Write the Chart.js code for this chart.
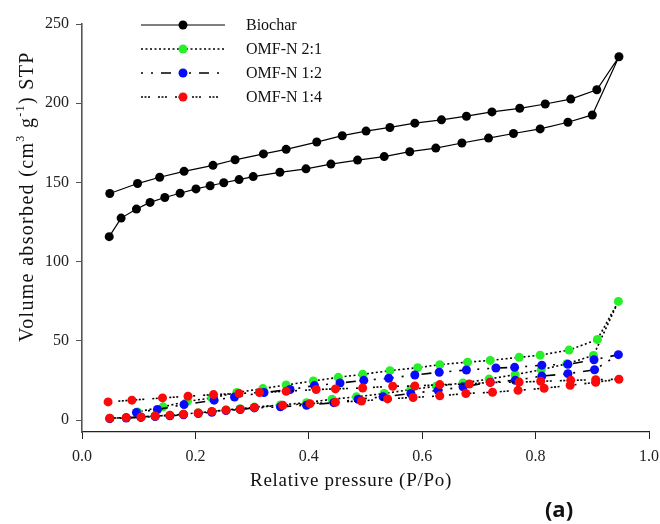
<!DOCTYPE html>
<html>
<head>
<meta charset="utf-8">
<script src="https://cdn.jsdelivr.net/npm/chart.js@4.4.1/dist/chart.umd.min.js"></script>
<style>
  html, body { margin: 0; padding: 0; background: #fff; }
  #chart { display: block; }
</style>
</head>
<body>
<canvas id="chart" width="660" height="524"></canvas>
<script>
// N2 isotherms - adsorption branch (low to high P/Po) and desorption branch (high to low)
const biocharAdsX = [0.048, 0.069, 0.096, 0.12, 0.146, 0.173, 0.201, 0.226, 0.25, 0.277, 0.302, 0.349, 0.395, 0.439, 0.486, 0.533, 0.578, 0.624, 0.67, 0.717, 0.761, 0.808, 0.857, 0.9, 0.947];
const biocharAdsY = [115.8, 127.5, 133.2, 137.4, 140.5, 143.2, 145.9, 147.9, 149.8, 151.8, 153.7, 156.4, 158.6, 161.6, 164.1, 166.3, 169.4, 171.7, 174.9, 178, 180.9, 183.8, 188, 192.6, 229.3];
const biocharDesX = [0.908, 0.862, 0.817, 0.772, 0.723, 0.678, 0.634, 0.587, 0.543, 0.501, 0.459, 0.414, 0.36, 0.32, 0.27, 0.231, 0.18, 0.137, 0.098, 0.049];
const biocharDesY = [208.5, 202.6, 199.5, 196.8, 194.5, 191.8, 189.5, 187.4, 184.7, 182.4, 179.5, 175.5, 170.9, 168, 164.3, 160.8, 157, 153.3, 149.3, 143];

const omf21AdsX = [0.049, 0.078, 0.104, 0.129, 0.155, 0.179, 0.205, 0.229, 0.254, 0.279, 0.304, 0.35, 0.396, 0.441, 0.484, 0.533, 0.58, 0.625, 0.672, 0.718, 0.764, 0.81, 0.855, 0.902, 0.946];
const omf21AdsY = [1.2, 1.6, 2.0, 2.6, 3.0, 3.8, 4.6, 5.4, 6.5, 7.2, 8.2, 9.6, 11, 13.2, 14.7, 16.8, 19.3, 21.4, 23.4, 25.9, 28.7, 31.8, 35.6, 40.8, 74.9];
const omf21DesX = [0.909, 0.859, 0.808, 0.771, 0.72, 0.68, 0.631, 0.592, 0.543, 0.495, 0.452, 0.408, 0.36, 0.319, 0.273, 0.229, 0.186, 0.143, 0.098];
const omf21DesY = [50.9, 44.2, 41, 39.6, 37.7, 36.6, 35, 33.1, 31.2, 28.9, 27, 24.7, 22.2, 19.9, 17.4, 14, 11.9, 8.4, 5.2];

const omf12AdsX = [0.049, 0.078, 0.104, 0.129, 0.155, 0.179, 0.205, 0.229, 0.254, 0.279, 0.304, 0.35, 0.396, 0.444, 0.487, 0.531, 0.58, 0.628, 0.672, 0.72, 0.764, 0.811, 0.857, 0.904, 0.946];
const omf12AdsY = [0.9, 1.3, 1.7, 2.3, 2.7, 3.4, 4.2, 5.0, 6.0, 6.7, 7.7, 8.4, 9.4, 11, 13.2, 14.7, 16.8, 18.8, 21, 23.9, 25.1, 27.8, 29.3, 31.8, 41.3];
const omf12DesX = [0.903, 0.857, 0.811, 0.763, 0.73, 0.678, 0.63, 0.587, 0.541, 0.497, 0.455, 0.41, 0.367, 0.321, 0.269, 0.233, 0.18, 0.133, 0.096];
const omf12DesY = [38.1, 35.2, 34.7, 33.3, 32.9, 31.6, 30.2, 28.5, 26.4, 25.1, 23.4, 21.8, 19.3, 17.4, 14.6, 12.6, 9.8, 6.7, 4.8];

const omf14AdsX = [0.049, 0.078, 0.104, 0.129, 0.155, 0.179, 0.205, 0.229, 0.254, 0.279, 0.304, 0.354, 0.402, 0.447, 0.493, 0.539, 0.584, 0.631, 0.677, 0.724, 0.769, 0.815, 0.861, 0.906, 0.947];
const omf14AdsY = [1.2, 1.6, 2.0, 2.6, 3.0, 3.7, 4.5, 5.5, 6.3, 6.9, 8.0, 9.4, 10.4, 11.3, 12.1, 13.4, 14.3, 15.3, 16.8, 17.6, 18.8, 20.1, 22, 23.9, 25.8];
const omf14DesX = [0.906, 0.862, 0.809, 0.771, 0.72, 0.683, 0.631, 0.587, 0.548, 0.495, 0.447, 0.413, 0.36, 0.313, 0.277, 0.232, 0.187, 0.142, 0.088, 0.046];
const omf14DesY = [25.5, 25.1, 24.5, 24, 23.8, 22.8, 22.4, 21.5, 21.4, 20.3, 19.7, 19.3, 18.2, 17.4, 16.8, 16.1, 15.1, 14, 12.6, 11.5];

const seriesLabels = ['Biochar', 'OMF-N 2:1', 'OMF-N 1:2', 'OMF-N 1:4'];
const xTicks = [0, 0.2, 0.4, 0.6, 0.8, 1.0];
const yTicks = [0, 50, 100, 150, 200, 250];

// join both branches into one loop so the line goes up and comes back
function loop(ax, ay, dx, dy) {
    const pts = ax.map((x, i) => ({ x: x, y: ay[i] }));
    dx.forEach((x, i) => pts.push({ x: x, y: dy[i] }));
    return pts;
}

const serif = '"Liberation Serif", "DejaVu Serif", serif';

function series(label, pts, color, dash, order) {
    return {
        label: label,
        data: pts,
        borderColor: '#000',
        borderWidth: dash.length ? 1.6 : 1.2,
        borderDash: dash,
        pointRadius: 4.5,
        pointHoverRadius: 4.5,
        pointBorderWidth: 0,
        pointBackgroundColor: color,
        tension: 0,
        fill: false,
        order: order
    };
}

const datasets = [
    series(seriesLabels[0], loop(biocharAdsX, biocharAdsY, biocharDesX, biocharDesY), '#000', [], 4),
    series(seriesLabels[1], loop(omf21AdsX, omf21AdsY, omf21DesX, omf21DesY), 'rgb(40,240,40)', [2, 2.5], 3),
    series(seriesLabels[2], loop(omf12AdsX, omf12AdsY, omf12DesX, omf12DesY), 'rgb(10,10,250)', [2, 8, 2, 8, 10, 8], 2),
    series(seriesLabels[3], loop(omf14AdsX, omf14AdsY, omf14DesX, omf14DesY), 'rgb(250,10,10)', [2, 1.5, 2, 1.5, 2, 8], 1)
];

// text stretched a little to the length of the original serif face
function spacedText(ctx, text, x, y, width) {
    ctx.letterSpacing = '0px';
    const w = ctx.measureText(text).width;
    ctx.letterSpacing = Math.max(0, (width - w) / text.length) + 'px';
    ctx.fillText(text, x, y);
    ctx.letterSpacing = '0px';
}

// legend with line + marker, plus axis titles and panel letter
const extras = {
    id: 'extras',
    afterDraw(chart) {
        const ctx = chart.ctx;
        ctx.save();
        // legend
        const rows = [25, 49, 73, 97];
        datasets.forEach((ds, i) => {
            const y = rows[i];
            ctx.strokeStyle = '#000';
            ctx.lineWidth = ds.borderWidth;
            ctx.setLineDash(ds.borderDash);
            ctx.beginPath();
            ctx.moveTo(141, y);
            ctx.lineTo(225, y);
            ctx.stroke();
            ctx.setLineDash([]);
            ctx.fillStyle = ds.pointBackgroundColor;
            ctx.beginPath();
            ctx.arc(183, y, 4.5, 0, Math.PI * 2);
            ctx.fill();
            ctx.fillStyle = '#111';
            ctx.font = '16px ' + serif;
            ctx.textAlign = 'left';
            ctx.textBaseline = 'middle';
            ctx.fillText(ds.label, 246, y + 1);
        });

        // x title
        ctx.fillStyle = '#111';
        ctx.font = '19px ' + serif;
        ctx.textAlign = 'left';
        ctx.textBaseline = 'middle';
        spacedText(ctx, 'Relative pressure (P/Po)', 250, 481, 202);

        // y title with superscripts
        const parts = [
            ['Volume absorbed (cm', false],
            ['3', true],
            [' g', false],
            ['-1', true],
            [') STP', false]
        ];
        const big = '20px ' + serif, small = '12px ' + serif;
        let total = 0;
        parts.forEach(p => { ctx.font = p[1] ? small : big; total += ctx.measureText(p[0]).width; });
        const extra = Math.max(0, (292 - total) / 30);
        ctx.translate(33, 196);
        ctx.rotate(-Math.PI / 2);
        ctx.textAlign = 'left';
        ctx.textBaseline = 'alphabetic';
        ctx.letterSpacing = extra + 'px';
        let x = -146;
        parts.forEach(p => {
            ctx.font = p[1] ? small : big;
            ctx.fillText(p[0], x, p[1] ? -9 : 0);
            x += ctx.measureText(p[0]).width;
        });
        ctx.letterSpacing = '0px';
        ctx.setTransform(1, 0, 0, 1, 0, 0);

        // panel letter
        ctx.font = 'bold 22px "Open Sans", "Liberation Sans", sans-serif';
        ctx.textAlign = 'center';
        ctx.textBaseline = 'middle';
        ctx.fillText('(a)', 559, 511);
        ctx.restore();
    }
};

new Chart(document.getElementById('chart'), {
    type: 'line',
    data: { datasets: datasets },
    options: {
        responsive: false,
        animation: false,
        layout: { padding: { top: 24, right: 11, left: 0, bottom: 0 } },
        plugins: { legend: { display: false }, tooltip: { enabled: false } },
        scales: {
            x: {
                type: 'linear',
                min: 0,
                max: 1,
                afterBuildTicks: s => { s.ticks = xTicks.map(v => ({ value: v })); },
                afterFit: s => { s.height = 92; s.paddingLeft = 0; s.paddingRight = 0; },
                ticks: {
                    color: '#222',
                    font: { family: serif, size: 16 },
                    padding: 8,
                    maxRotation: 0,
                    callback: v => v.toFixed(1)
                },
                grid: { drawOnChartArea: false, drawTicks: true, tickLength: 7, color: '#222', lineWidth: 1 },
                border: { display: true, color: '#222', width: 1.2 }
            },
            y: {
                type: 'linear',
                min: -7.5,
                max: 250,
                afterBuildTicks: s => { s.ticks = yTicks.map(v => ({ value: v })); },
                afterFit: s => { s.width = 82; },
                ticks: {
                    color: '#222',
                    font: { family: serif, size: 16 },
                    padding: 7
                },
                grid: { drawOnChartArea: false, drawTicks: true, tickLength: 6, color: '#555', lineWidth: 1 },
                border: { display: true, color: '#555', width: 1.6 }
            }
        }
    },
    plugins: [extras]
});
</script>
</body>
</html>
